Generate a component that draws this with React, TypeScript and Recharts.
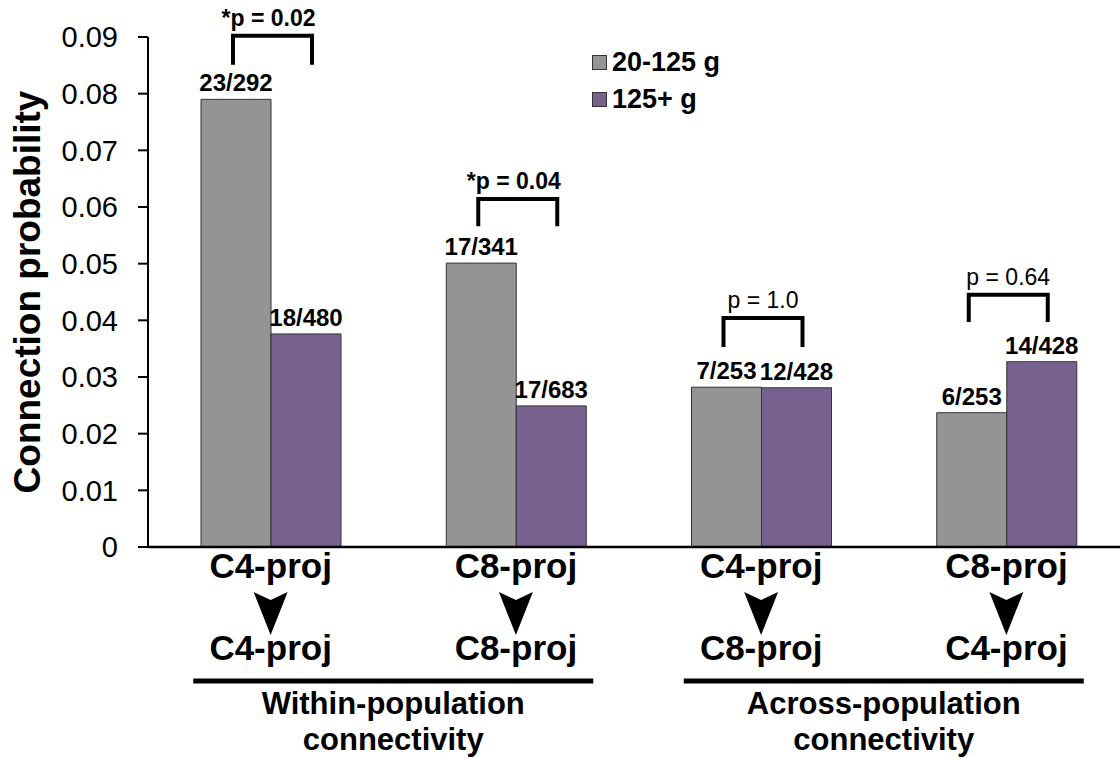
import React from 'react';
import { BarChart, Bar, XAxis, YAxis, Legend, LabelList } from 'recharts';

const FONT = '"Liberation Sans", Arial, Helvetica, sans-serif';

// categories (source -> target projection groups)
const sourceLabels = ['C4-proj', 'C8-proj', 'C4-proj', 'C8-proj'];
const targetLabels = ['C4-proj', 'C8-proj', 'C8-proj', 'C4-proj'];
const populations = [
  'Within-population|connectivity',
  'Within-population|connectivity',
  'Across-population|connectivity',
  'Across-population|connectivity',
];

// series names, in legend order
const seriesNames = ['20-125 g', '125+ g'];

// connection probability per weight class
const lightValues = [0.079, 0.0501, 0.0282, 0.0237];
const heavyValues = [0.0376, 0.0249, 0.0281, 0.0327];
const lightCounts = ['23/292', '17/341', '7/253', '6/253'];
const heavyCounts = ['18/480', '17/683', '12/428', '14/428'];

// significance brackets
const pLabels = ['*p = 0.02', '*p = 0.04', 'p = 1.0', 'p = 0.64'];
const pBold = [true, true, false, false];
const bracketTop = [0.0902, 0.0614, 0.0404, 0.0445];
const bracketFoot = [0.0851, 0.0566, 0.0353, 0.0397];

const yTicks = [0, 0.01, 0.02, 0.03, 0.04, 0.05, 0.06, 0.07, 0.08, 0.09];

const data = sourceLabels.map((s, i) => ({
  key: `${s}>${targetLabels[i]}`,
  population: populations[i],
  light: lightValues[i],
  heavy: heavyValues[i],
  lightCount: lightCounts[i],
  heavyCount: heavyCounts[i],
  pLabel: pLabels[i],
}));

const PairTick = (props: any) => {
  const { x, y, index } = props;
  return (
    <g>
      <text x={x} y={y + 31} textAnchor="middle" fontFamily={FONT} fontWeight="bold" fontSize={35} fill="#000">
        {sourceLabels[index]}
      </text>
      <polygon
        points={`${x - 17},${y + 45} ${x},${y + 53} ${x + 17},${y + 45} ${x},${y + 88}`}
        fill="#000"
      />
      <text x={x} y={y + 113} textAnchor="middle" fontFamily={FONT} fontWeight="bold" fontSize={35} fill="#000">
        {targetLabels[index]}
      </text>
    </g>
  );
};

const GroupTick = (props: any) => {
  const { x, y, payload } = props;
  const lines = String(payload.value).split('|');
  return (
    <g>
      <rect x={x - 200} y={y + 1.5} width={400} height={5} fill="#000" />
      <text x={x} y={y + 37} textAnchor="middle" fontFamily={FONT} fontWeight="bold" fontSize={31} fill="#000">
        {lines[0]}
      </text>
      <text x={x} y={y + 73} textAnchor="middle" fontFamily={FONT} fontWeight="bold" fontSize={31} fill="#000">
        {lines[1]}
      </text>
    </g>
  );
};

const Bracket = (props: any) => {
  const vb = props.viewBox || props;
  const bx = vb.x ?? props.x;
  const by = vb.y ?? props.y;
  const bw = vb.width ?? props.width;
  const bh = vb.height ?? props.height;
  const i = props.index;
  if (bx == null || i == null) return null;
  // derive the value scale from the bar itself
  const base = by + bh;
  const perUnit = bh / lightValues[i];
  const top = base - bracketTop[i] * perUnit;
  const foot = base - bracketFoot[i] * perUnit;
  const left = bx + bw / 2 - 3;
  const right = bx + bw * 1.5 + 6;
  return (
    <g>
      <polyline
        points={`${left},${foot} ${left},${top} ${right},${top} ${right},${foot}`}
        fill="none"
        stroke="#000"
        strokeWidth={4}
      />
      <text
        x={(left + right) / 2 - (pBold[i] ? 4 : 0)}
        y={top - 10}
        textAnchor="middle"
        fontFamily={FONT}
        fontWeight={pBold[i] ? 'bold' : 'normal'}
        fontSize={23}
        fill="#000"
      >
        {pLabels[i]}
      </text>
    </g>
  );
};

const LegendContent = (props: any) => {
  const items = [...(props.payload || [])].sort(
    (a: any, b: any) => seriesNames.indexOf(a.value) - seriesNames.indexOf(b.value)
  );
  return (
    <div style={{ display: 'flex', flexDirection: 'column' }}>
      {items.map((e: any) => (
        <div key={e.value} style={{ display: 'flex', alignItems: 'center', height: 37 }}>
          <span
            style={{
              display: 'inline-block',
              width: 13,
              height: 13,
              background: e.color,
              border: '1px solid #333',
              marginRight: 5,
            }}
          />
          <span style={{ fontFamily: FONT, fontWeight: 'bold', fontSize: 27, color: '#000' }}>{e.value}</span>
        </div>
      ))}
    </div>
  );
};

export default function App() {
  return (
    <div style={{ position: 'absolute', left: 0, top: 0, width: 1120, height: 757, background: '#fff' }}>
      <BarChart
        width={1120}
        height={757}
        data={data}
        margin={{ top: 37, right: -9, bottom: 0, left: 0 }}
        barGap={0}
        barSize={70}
      >
        <XAxis
          dataKey="key"
          height={130}
          tickSize={0}
          tickMargin={0}
          tickLine={false}
          axisLine={{ stroke: '#000', strokeWidth: 2.5 }}
          tick={<PairTick />}
          interval={0}
        />
        <XAxis
          xAxisId="grp"
          dataKey="population"
          allowDuplicatedCategory={false}
          height={80}
          tickSize={0}
          tickMargin={0}
          tickLine={false}
          axisLine={false}
          tick={<GroupTick />}
          interval={0}
        />
        <YAxis
          width={148}
          domain={[0, 0.09]}
          ticks={yTicks}
          interval={0}
          tickSize={10}
          tickMargin={20}
          axisLine={{ stroke: '#000', strokeWidth: 2 }}
          tickLine={{ stroke: '#000', strokeWidth: 2 }}
          tick={{ fontFamily: FONT, fontSize: 29, fill: '#000' }}
          tickFormatter={(v: number) => String(v)}
          label={{
            content: (p: any) => {
              const vb = p.viewBox;
              const cx = vb.x + 27;
              const cy = vb.y + vb.height / 2;
              return (
                <text
                  x={0}
                  y={0}
                  transform={`translate(${cx}, ${cy}) rotate(-90)`}
                  textAnchor="middle"
                  dominantBaseline="central"
                  fontFamily={FONT}
                  fontWeight="bold"
                  fontSize={37}
                  fill="#000"
                >
                  Connection probability
                </text>
              );
            },
          }}
        />
        <Legend
          layout="vertical"
          verticalAlign="middle"
          align="center"
          wrapperStyle={{ left: 592, top: 44, width: 'auto' }}
          content={<LegendContent />}
        />
        <Bar dataKey="light" name={seriesNames[0]} fill="#949494" stroke="#333" strokeWidth={1} isAnimationActive={false}>
          <LabelList
            dataKey="lightCount"
            position="top"
            offset={8}
            fill="#000"
            fontFamily={FONT}
            fontWeight="bold"
            fontSize={24}
          />
          <LabelList dataKey="pLabel" content={<Bracket />} />
        </Bar>
        <Bar dataKey="heavy" name={seriesNames[1]} fill="#77618f" stroke="#333" strokeWidth={1} isAnimationActive={false}>
          <LabelList
            dataKey="heavyCount"
            position="top"
            offset={8}
            fill="#000"
            fontFamily={FONT}
            fontWeight="bold"
            fontSize={24}
          />
        </Bar>
      </BarChart>
    </div>
  );
}
